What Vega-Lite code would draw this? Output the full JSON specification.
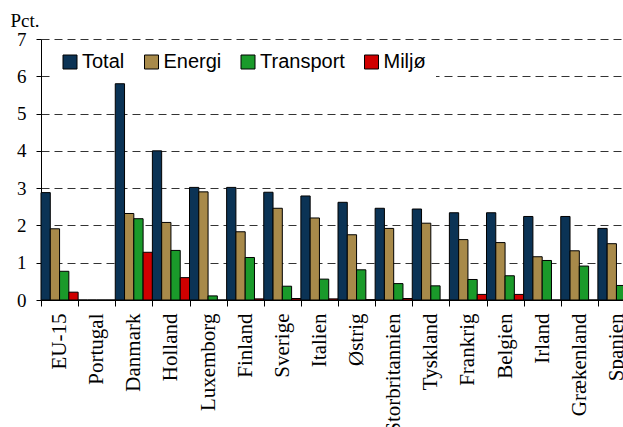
{
  "$schema": "https://vega.github.io/schema/vega-lite/v6.json",
  "width": 582,
  "height": 261,
  "autosize": {"type": "none"},
  "padding": {"left": 41, "top": 39, "right": 0, "bottom": 127},
  "background": "white",
  "config": {"view": {"stroke": null}},
  "data": {"values": [
    {"land": "EU-15", "serie": "Total", "value": 2.88},
    {"land": "EU-15", "serie": "Energi", "value": 1.91},
    {"land": "EU-15", "serie": "Transport", "value": 0.77},
    {"land": "EU-15", "serie": "Miljø", "value": 0.21},
    {"land": "Portugal", "serie": "Total", "value": 0},
    {"land": "Portugal", "serie": "Energi", "value": 0},
    {"land": "Portugal", "serie": "Transport", "value": 0},
    {"land": "Portugal", "serie": "Miljø", "value": 0},
    {"land": "Danmark", "serie": "Total", "value": 5.8},
    {"land": "Danmark", "serie": "Energi", "value": 2.32},
    {"land": "Danmark", "serie": "Transport", "value": 2.18},
    {"land": "Danmark", "serie": "Miljø", "value": 1.28},
    {"land": "Holland", "serie": "Total", "value": 4.0},
    {"land": "Holland", "serie": "Energi", "value": 2.08},
    {"land": "Holland", "serie": "Transport", "value": 1.33},
    {"land": "Holland", "serie": "Miljø", "value": 0.6},
    {"land": "Luxemborg", "serie": "Total", "value": 3.02},
    {"land": "Luxemborg", "serie": "Energi", "value": 2.9},
    {"land": "Luxemborg", "serie": "Transport", "value": 0.11},
    {"land": "Luxemborg", "serie": "Miljø", "value": 0},
    {"land": "Finland", "serie": "Total", "value": 3.02},
    {"land": "Finland", "serie": "Energi", "value": 1.83},
    {"land": "Finland", "serie": "Transport", "value": 1.14},
    {"land": "Finland", "serie": "Miljø", "value": 0.03},
    {"land": "Sverige", "serie": "Total", "value": 2.89},
    {"land": "Sverige", "serie": "Energi", "value": 2.46},
    {"land": "Sverige", "serie": "Transport", "value": 0.37},
    {"land": "Sverige", "serie": "Miljø", "value": 0.04},
    {"land": "Italien", "serie": "Total", "value": 2.79},
    {"land": "Italien", "serie": "Energi", "value": 2.2},
    {"land": "Italien", "serie": "Transport", "value": 0.56},
    {"land": "Italien", "serie": "Miljø", "value": 0.03},
    {"land": "Østrig", "serie": "Total", "value": 2.62},
    {"land": "Østrig", "serie": "Energi", "value": 1.75},
    {"land": "Østrig", "serie": "Transport", "value": 0.81},
    {"land": "Østrig", "serie": "Miljø", "value": 0.01},
    {"land": "Storbritannien", "serie": "Total", "value": 2.46},
    {"land": "Storbritannien", "serie": "Energi", "value": 1.92},
    {"land": "Storbritannien", "serie": "Transport", "value": 0.44},
    {"land": "Storbritannien", "serie": "Miljø", "value": 0.04},
    {"land": "Tyskland", "serie": "Total", "value": 2.44},
    {"land": "Tyskland", "serie": "Energi", "value": 2.06},
    {"land": "Tyskland", "serie": "Transport", "value": 0.38},
    {"land": "Tyskland", "serie": "Miljø", "value": 0},
    {"land": "Frankrig", "serie": "Total", "value": 2.34},
    {"land": "Frankrig", "serie": "Energi", "value": 1.62},
    {"land": "Frankrig", "serie": "Transport", "value": 0.55},
    {"land": "Frankrig", "serie": "Miljø", "value": 0.15},
    {"land": "Belgien", "serie": "Total", "value": 2.34},
    {"land": "Belgien", "serie": "Energi", "value": 1.54},
    {"land": "Belgien", "serie": "Transport", "value": 0.65},
    {"land": "Belgien", "serie": "Miljø", "value": 0.15},
    {"land": "Irland", "serie": "Total", "value": 2.24},
    {"land": "Irland", "serie": "Energi", "value": 1.16},
    {"land": "Irland", "serie": "Transport", "value": 1.06},
    {"land": "Irland", "serie": "Miljø", "value": 0},
    {"land": "Grækenland", "serie": "Total", "value": 2.24},
    {"land": "Grækenland", "serie": "Energi", "value": 1.32},
    {"land": "Grækenland", "serie": "Transport", "value": 0.91},
    {"land": "Grækenland", "serie": "Miljø", "value": 0},
    {"land": "Spanien", "serie": "Total", "value": 1.92},
    {"land": "Spanien", "serie": "Energi", "value": 1.51},
    {"land": "Spanien", "serie": "Transport", "value": 0.39},
    {"land": "Spanien", "serie": "Miljø", "value": 0}
  ]},
  "mark": {"type": "bar", "stroke": "black", "strokeWidth": 1},
  "encoding": {
    "x": {
      "field": "land", "type": "nominal", "sort": null,
      "scale": {"range": [0, 594], "paddingInner": 0, "paddingOuter": 0},
      "axis": {
        "title": null, "labelAngle": 270, "labelFont": "Liberation Serif", "labelFontSize": 21,
        "labelColor": "black", "tickBand": "extent", "tickSize": 6, "tickColor": "black",
        "domainColor": "black", "labelPadding": 7, "grid": false
      }
    },
    "xOffset": {
      "field": "serie", "type": "nominal", "sort": ["Total", "Energi", "Transport", "Miljø"],
      "scale": {"paddingInner": 0, "paddingOuter": 0}
    },
    "y": {
      "field": "value", "type": "quantitative",
      "scale": {"domain": [0, 7]},
      "axis": {
        "values": [0, 1, 2, 3, 4, 5, 6, 7], "title": "Pct.", "titleAngle": 0, "titleAlign": "left",
        "titleBaseline": "alphabetic", "titleX": -31, "titleY": -13, "titleFont": "Liberation Serif",
        "titleFontSize": 19, "titleFontWeight": "normal", "titleColor": "black",
        "labelFont": "Liberation Serif", "labelFontSize": 19, "labelColor": "black", "labelPadding": 10,
        "tickSize": 5, "tickColor": "black", "domainColor": "black",
        "gridColor": "#333333", "gridDash": [8, 5], "gridWidth": 1
      }
    },
    "color": {
      "field": "serie", "type": "nominal", "sort": ["Total", "Energi", "Transport", "Miljø"],
      "scale": {"domain": ["Total", "Energi", "Transport", "Miljø"], "range": ["#0b3355", "#a88a4a", "#1a9a2a", "#d00000"]},
      "legend": {
        "title": null, "orient": "none", "legendX": 9, "legendY": 3, "direction": "horizontal",
        "symbolType": "square", "symbolSize": 196, "symbolStrokeColor": "black", "symbolStrokeWidth": 1,
        "symbolOpacity": 1, "labelFont": "Liberation Sans", "labelFontSize": 20, "labelColor": "black",
        "labelOffset": 2, "columnPadding": 16.5, "padding": 10, "fillColor": "white"
      }
    }
  }
}
